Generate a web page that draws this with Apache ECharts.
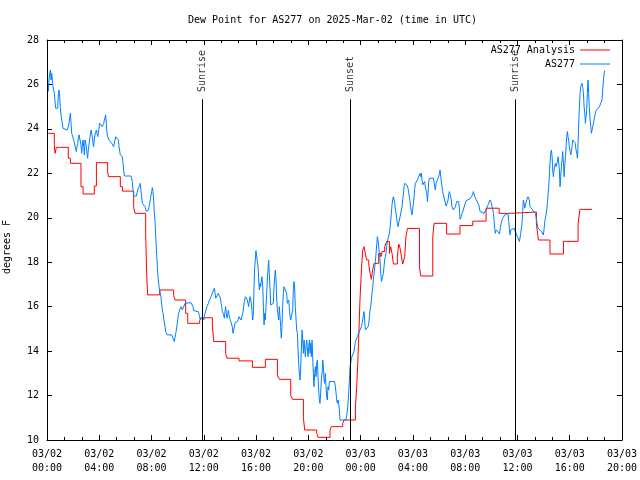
<!DOCTYPE html>
<html>
<head>
<meta charset="utf-8">
<script src="https://cdn.jsdelivr.net/npm/echarts@6/dist/echarts.min.js"></script>
<style>html,body{margin:0;padding:0;background:#fff}#c{width:640px;height:480px}</style>
</head>
<body>
<div id="c"></div>
<script>
// hours since 2025-03-02 00:00 UTC
const xTickLabels = ['03/02\n00:00','03/02\n04:00','03/02\n08:00','03/02\n12:00','03/02\n16:00','03/02\n20:00',
  '03/03\n00:00','03/03\n04:00','03/03\n08:00','03/03\n12:00','03/03\n16:00','03/03\n20:00'];
const yTicks = [10,12,14,16,18,20,22,24,26,28];
const eventTimes = [11.89, 23.19, 35.84];
const eventNames = ['Sunrise', 'Sunset', 'Sunrise'];

// AS277 Analysis (stepped): [hour, dew point F]
const analysis = [
[0.10,23.8],[0.56,23.3],[0.61,22.9],[0.72,23.17],[1.63,22.68],[1.79,22.45],[2.60,21.4],[2.76,21.07],
[3.62,21.43],[3.78,22.48],[4.64,22.1],[4.70,21.85],[5.61,21.4],[5.77,21.2],[6.63,20.5],[6.73,20.2],
[7.55,19.3],[7.63,17.43],[7.70,16.53],[8.62,16.75],[9.69,16.5],[9.80,16.3],[10.61,15.7],[10.77,15.25],
[11.68,15.37],[11.79,15.5],[12.65,15.18],[12.76,14.43],[13.67,13.9],[13.78,13.68],[14.69,13.56],
[15.72,13.27],[16.71,13.63],[17.63,12.9],[17.78,12.73],[18.65,12.0],[18.80,11.83],[19.62,11.0],[19.72,10.45],
[20.64,10.3],[20.74,10.12],[21.66,10.45],[21.76,10.6],[22.63,10.75],[22.73,10.9],
[23.60,11.5],[23.70,12.4],[23.78,13.45],[23.85,14.58],[23.95,16.3],[24.06,17.65],[24.16,18.55],[24.26,18.7],
[24.36,18.4],[24.46,18.1],[24.62,17.92],[24.72,17.5],[24.82,17.23],[24.92,17.65],[25.03,17.95],[25.38,18.4],
[25.54,18.25],[25.64,18.48],[25.84,18.7],[25.99,18.93],[26.20,18.4],[26.30,18.7],[26.40,18.4],[26.51,17.92],
[26.81,18.25],[26.91,18.82],[27.02,18.63],[27.12,18.25],[27.22,17.92],[27.37,18.25],[27.47,19.15],[27.58,19.52],
[28.50,17.8],[28.60,17.38],[29.52,19.15],[29.62,19.75],[30.58,19.27],[31.60,19.65],[32.58,19.85],[33.60,20.43],
[34.60,20.2],[35.50,20.26],[37.45,19.75],[37.60,19.0],[38.49,18.37],[39.52,18.94],[40.64,19.75],[40.79,20.38],
[41.71,20.38]
];

// AS277 observations: [hour, dew point F]
const station = [
[0.10,25.68],[0.15,26.2],[0.20,26.5],[0.26,26.65],[0.31,26.2],[0.36,26.5],[0.41,26.2],[0.46,25.9],[0.56,25.6],
[0.66,24.93],[0.82,24.93],[0.87,25.53],[0.92,25.75],[0.97,25.45],[1.02,25.0],[1.07,24.63],[1.17,24.25],[1.22,24.03],
[1.53,23.95],[1.63,24.1],[1.68,24.25],[1.73,24.48],[1.79,24.7],[1.84,24.25],[1.89,23.8],[1.99,23.8],[2.04,23.5],
[2.14,23.5],[2.19,23.13],[2.24,22.98],[2.30,23.2],[2.35,23.35],[2.40,23.58],[2.45,23.73],[2.55,23.73],[2.60,23.28],
[2.65,22.9],[2.70,23.2],[2.76,23.5],[2.81,23.2],[2.86,22.83],[2.91,23.5],[2.96,23.58],[3.01,23.2],[3.06,22.9],
[3.11,22.68],[3.16,23.05],[3.21,23.28],[3.32,23.73],[3.37,23.95],[3.42,24.03],[3.47,23.65],[3.52,23.35],[3.57,23.2],
[3.62,23.5],[3.67,23.73],[3.72,23.8],[3.78,23.95],[3.83,23.88],[3.88,23.65],[3.93,23.8],[3.98,24.03],[4.03,24.25],
[4.08,24.33],[4.13,24.18],[4.18,24.25],[4.23,24.1],[4.29,24.03],[4.34,24.25],[4.39,24.4],[4.44,24.48],[4.49,24.63],
[4.54,24.25],[4.59,23.8],[4.64,23.65],[4.74,23.5],[4.85,23.43],[4.95,23.35],[5.05,23.28],[5.10,23.2],[5.15,23.28],
[5.20,23.5],[5.26,23.65],[5.31,23.73],[5.41,23.73],[5.46,23.5],[5.51,23.2],[5.61,22.83],[5.66,22.75],[5.77,22.75],
[5.82,22.45],[5.87,22.15],[5.92,21.88],[6.43,21.88],[6.53,21.63],[6.58,21.25],[6.63,20.98],[6.84,20.98],[6.89,21.13],
[6.94,21.25],[6.99,21.18],[7.04,21.33],[7.09,21.45],[7.14,21.55],[7.19,21.25],[7.24,20.95],[7.30,20.65],[7.40,20.58],
[7.50,20.5],[7.55,20.43],[7.60,20.28],[7.70,20.28],[7.76,20.35],[7.81,20.5],[7.86,20.65],[7.91,20.83],[7.96,21.03],
[8.01,21.18],[8.06,21.36],[8.11,21.18],[8.16,20.8],[8.21,20.2],[8.27,19.83],[8.32,19.15],[8.37,18.55],[8.42,18.1],
[8.47,17.5],[8.52,17.2],[8.57,16.9],[8.62,16.75],[8.67,16.68],[8.72,16.45],[8.78,16.08],[8.83,15.85],[8.88,15.7],
[8.93,15.48],[8.98,15.4],[9.03,15.1],[9.08,14.88],[9.18,14.73],[9.54,14.73],[9.64,14.58],[9.74,14.43],[9.80,14.5],
[9.85,14.8],[9.90,14.95],[9.95,15.18],[10.00,15.4],[10.05,15.63],[10.10,15.7],[10.15,15.85],[10.20,15.78],[10.26,16.0],
[10.31,16.08],[10.36,15.85],[10.41,15.78],[10.46,15.85],[10.51,15.93],[10.56,16.15],[10.61,16.18],[11.02,16.18],
[11.12,16.15],[11.17,16.0],[11.22,15.82],[11.28,15.78],[11.58,15.78],[11.63,15.7],[11.68,15.55],[11.73,15.4],
[11.79,15.33],[11.84,15.4],[11.89,15.55],[11.94,15.48],[11.99,15.4],[12.04,15.55],[12.09,15.7],[12.14,15.78],
[12.19,15.78],[12.24,16.0],[12.35,16.15],[12.45,16.33],[12.55,16.45],[12.60,16.53],[12.70,16.68],[12.76,16.75],
[12.81,16.83],[12.86,16.6],[12.91,16.38],[13.06,16.38],[13.11,16.6],[13.16,16.6],[13.21,16.53],[13.27,16.38],
[13.32,16.15],[13.37,16.0],[13.42,15.78],[13.47,15.7],[13.52,15.63],[13.57,15.48],[13.62,15.78],[13.67,16.0],
[13.72,15.7],[13.78,15.48],[13.83,15.63],[13.88,15.85],[13.93,15.63],[13.98,15.48],[14.08,15.55],[14.13,15.4],
[14.18,15.1],[14.23,14.8],[14.29,14.95],[14.34,15.1],[14.39,15.28],[14.59,15.33],[14.64,15.4],[14.69,15.55],
[14.74,15.63],[14.80,15.55],[14.85,15.4],[14.90,15.48],[14.95,15.63],[15.00,15.78],[15.05,16.0],[15.10,16.23],
[15.18,16.45],[15.23,16.38],[15.28,16.53],[15.33,16.3],[15.38,16.15],[15.43,16.0],[15.48,16.23],[15.54,16.45],
[15.59,16.53],[15.64,16.15],[15.69,15.78],[15.74,15.4],[15.79,15.7],[15.84,16.9],[15.89,17.73],[15.94,18.1],
[15.99,18.52],[16.10,18.52],[16.15,17.8],[16.20,17.2],[16.25,16.75],[16.30,17.05],[16.35,16.9],[16.40,17.2],
[16.45,17.35],[16.51,16.9],[16.56,16.0],[16.61,15.18],[16.66,15.7],[16.71,15.4],[16.76,16.0],[16.81,16.6],
[16.86,17.2],[16.91,17.65],[16.96,18.1],[17.01,17.5],[17.07,16.75],[17.12,16.08],[17.32,16.15],[17.37,16.9],
[17.42,17.28],[17.47,17.65],[17.53,17.2],[17.58,16.3],[17.63,15.85],[17.68,15.93],[17.73,15.4],[17.78,16.0],
[17.83,15.55],[17.88,15.1],[17.93,14.58],[17.98,15.1],[18.03,16.0],[18.09,16.6],[18.14,16.9],[18.29,16.9],
[18.34,16.6],[18.39,16.15],[18.49,16.3],[18.54,16.0],[18.60,15.55],[18.65,15.4],[18.75,15.4],[18.80,15.85],
[18.85,16.75],[18.90,17.13],[18.95,16.9],[19.00,16.0],[19.06,15.4],[19.11,14.95],[19.16,14.8],[19.21,14.05],
[19.26,13.45],[19.31,13.0],[19.36,12.7],[19.41,13.15],[19.46,14.05],[19.52,14.95],[19.57,14.5],[19.62,13.9],
[19.67,14.5],[19.77,13.75],[19.82,14.2],[19.87,14.5],[19.92,14.2],[19.97,13.75],[20.03,14.2],[20.08,14.5],
[20.13,13.9],[20.18,14.35],[20.23,13.75],[20.28,14.5],[20.33,13.75],[20.38,13.0],[20.43,12.4],[20.48,13.0],
[20.54,13.3],[20.59,12.85],[20.64,13.45],[20.69,13.6],[20.74,12.85],[20.79,12.25],[20.84,11.8],[20.89,11.65],
[20.94,12.1],[20.99,12.7],[21.05,13.0],[21.10,13.6],[21.15,13.3],[21.20,12.7],[21.25,12.55],[21.30,13.0],
[21.35,12.4],[21.40,11.95],[21.45,11.8],[21.50,12.4],[21.56,12.25],[21.61,12.63],[22.01,12.63],[22.07,12.4],
[22.12,12.1],[22.17,11.8],[22.22,11.65],[22.27,11.8],[22.32,11.65],[22.37,11.35],[22.42,10.9],[22.88,10.9],
[22.98,11.28],[23.09,12.1],[23.14,12.7],[23.19,13.3],[23.24,13.45],[23.29,13.68],[23.44,13.68],[23.49,13.98],
[23.54,14.2],[23.60,14.43],[23.65,14.5],[23.75,14.65],[23.85,14.73],[23.95,14.95],[24.06,15.1],[24.16,15.4],
[24.21,15.63],[24.26,15.78],[24.31,15.4],[24.36,14.95],[24.46,14.95],[24.57,15.1],[24.62,15.25],[24.67,15.55],
[24.72,15.85],[24.77,16.0],[24.82,16.3],[24.87,16.6],[24.92,16.83],[24.97,17.2],[25.03,17.5],[25.08,17.8],
[25.13,18.03],[25.18,18.4],[25.23,18.78],[25.28,19.15],[25.33,19.0],[25.38,18.7],[25.43,18.4],[25.48,18.1],
[25.54,17.5],[25.59,17.13],[25.64,17.2],[25.69,17.35],[25.74,17.5],[25.79,17.8],[25.84,18.1],[25.89,18.25],
[25.94,18.4],[25.99,18.7],[26.05,18.93],[26.10,18.85],[26.15,19.0],[26.20,19.3],[26.25,19.53],[26.30,19.6],
[26.35,20.2],[26.40,20.58],[26.45,20.8],[26.51,20.95],[26.56,20.88],[26.61,20.65],[26.66,20.35],[26.71,20.2],
[26.76,19.98],[26.81,19.75],[26.86,19.6],[26.91,19.68],[26.96,19.9],[27.02,20.05],[27.07,20.13],[27.12,20.35],
[27.17,20.5],[27.22,20.8],[27.27,21.03],[27.32,21.4],[27.37,21.55],[27.42,21.63],[27.47,21.55],[27.53,21.48],
[27.58,21.4],[27.63,21.33],[27.68,21.1],[27.73,20.95],[27.78,20.73],[27.83,20.5],[27.88,20.28],[27.93,20.13],
[27.98,20.35],[28.04,20.65],[28.09,20.95],[28.14,21.33],[28.19,21.55],[28.24,21.63],[28.34,21.7],[28.44,21.85],
[28.55,22.0],[28.60,21.85],[28.65,22.0],[28.70,21.7],[28.75,21.48],[28.80,21.4],[28.85,21.55],[28.90,21.63],
[28.95,21.4],[29.01,21.33],[29.06,21.1],[29.11,20.73],[29.16,21.1],[29.21,21.63],[29.26,21.78],[29.57,21.78],
[29.67,21.4],[29.72,21.25],[29.77,21.55],[29.82,21.63],[29.87,21.7],[29.97,21.85],[30.03,22.0],[30.08,22.15],
[30.13,21.85],[30.23,21.4],[30.28,21.18],[30.33,21.03],[30.43,20.8],[30.54,20.53],[30.64,20.53],[30.69,20.8],
[30.74,21.03],[30.79,21.18],[30.89,21.13],[30.94,20.8],[30.99,20.5],[31.10,20.35],[31.15,20.28],[31.25,20.5],
[31.35,20.73],[31.45,20.8],[31.51,20.73],[31.56,20.35],[31.61,19.93],[31.71,20.05],[31.76,20.2],[31.86,20.35],
[31.96,20.58],[32.07,20.77],[32.17,20.85],[32.37,20.85],[32.47,20.95],[32.58,21.07],[32.63,21.18],[32.68,21.07],
[32.73,20.95],[32.83,20.83],[32.93,20.77],[33.04,20.58],[33.14,20.28],[33.44,20.2],[33.55,20.28],[33.65,20.43],
[33.75,20.58],[33.85,20.65],[33.90,20.8],[34.00,20.68],[34.06,20.5],[34.11,20.35],[34.16,20.2],[34.21,19.9],
[34.26,19.53],[34.31,19.3],[34.36,19.45],[34.41,19.53],[34.52,19.38],[34.62,19.27],[34.67,19.45],[34.72,19.68],
[34.82,19.9],[34.92,20.02],[35.03,20.13],[35.18,20.2],[35.28,20.2],[35.33,19.83],[35.38,19.53],[35.43,19.23],
[35.48,19.45],[35.59,19.53],[35.74,19.53],[35.84,19.45],[35.94,19.23],[36.05,19.08],[36.15,18.93],[36.20,19.0],
[36.25,19.3],[36.30,19.53],[36.35,19.75],[36.40,20.28],[36.45,20.8],[36.51,20.65],[36.56,20.43],[36.61,20.58],
[36.71,20.8],[36.81,20.95],[36.91,20.8],[36.96,20.5],[37.07,20.43],[37.17,20.35],[37.27,20.28],[37.37,20.2],
[37.42,20.05],[37.47,19.83],[37.53,19.68],[37.58,19.53],[37.63,19.45],[37.73,19.45],[37.83,19.38],[37.93,19.3],
[37.98,19.23],[38.03,19.45],[38.09,19.83],[38.14,19.98],[38.19,20.13],[38.24,20.35],[38.29,20.65],[38.34,21.03],
[38.39,21.4],[38.44,21.85],[38.49,22.45],[38.55,22.9],[38.60,23.05],[38.65,22.75],[38.70,22.15],[38.75,21.85],
[38.80,22.15],[38.85,22.3],[38.90,22.45],[38.95,22.3],[39.01,22.38],[39.06,22.53],[39.11,22.75],[39.16,22.68],
[39.21,22.15],[39.26,21.4],[39.31,21.85],[39.36,22.3],[39.41,22.6],[39.46,22.98],[39.52,22.45],[39.57,21.85],
[39.62,22.3],[39.67,22.75],[39.72,23.2],[39.77,23.65],[39.82,23.88],[39.87,23.65],[39.92,23.5],[39.97,23.2],
[40.03,22.98],[40.08,22.83],[40.13,22.9],[40.18,23.2],[40.23,23.5],[40.28,23.58],[40.38,23.58],[40.43,23.35],
[40.48,23.05],[40.54,22.9],[40.59,22.68],[40.64,23.35],[40.69,24.25],[40.74,25.0],[40.79,25.6],[40.84,25.9],
[40.89,25.98],[40.94,26.05],[40.99,25.9],[41.05,25.6],[41.10,25.0],[41.15,24.7],[41.20,24.25],[41.25,24.18],
[41.30,24.85],[41.35,25.6],[41.40,26.2],[41.45,25.6],[41.50,25.0],[41.56,24.4],[41.61,24.1],[41.66,23.8],
[41.71,23.95],[41.76,24.1],[41.81,24.25],[41.86,24.4],[41.91,24.55],[41.96,24.7],[42.01,24.82],[42.07,24.85],
[42.27,25.0],[42.42,25.03],[42.47,25.3],[42.52,25.75],[42.58,26.2],[42.63,26.5],[42.68,26.62]
];

const FONT = 'DejaVu Sans Mono';
const chart = echarts.init(document.getElementById('c'), null, {renderer: 'canvas'});

const xCommon = {
  type: 'value', min: 0, max: 44, interval: 4,
  axisLine: {show: true, onZero: false, lineStyle: {color: '#000', width: 1}},
  axisTick: {show: true, inside: true, length: 5, lineStyle: {color: '#000'}},
  minorTick: {show: true, splitNumber: 3, length: 3, lineStyle: {color: '#000'}},
  splitLine: {show: false}, minorSplitLine: {show: false}
};
const yCommon = {
  type: 'value', min: 10, max: 28, interval: 2,
  axisLine: {show: true, onZero: false, lineStyle: {color: '#000', width: 1}},
  axisTick: {show: true, inside: true, length: 5, lineStyle: {color: '#000'}},
  splitLine: {show: false}
};

chart.setOption({
  animation: false,
  backgroundColor: '#fff',
  title: {
    text: 'Dew Point for AS277 on 2025-Mar-02 (time in UTC)',
    left: 183, top: 10,
    textStyle: {fontFamily: FONT, fontSize: 10, fontWeight: 'normal', color: '#000'}
  },
  legend: {
    data: ['AS277 Analysis', 'AS277'],
    orient: 'vertical', right: 30, top: 44, align: 'right', padding: 0,
    icon: 'rect', itemWidth: 30, itemHeight: 1, itemGap: 2,
    textStyle: {fontFamily: FONT, fontSize: 10, color: '#000', lineHeight: 12}
  },
  grid: {left: 47, right: 18, top: 40, bottom: 40, containLabel: false, outerBoundsMode: 'none'},
  xAxis: [
    Object.assign({}, xCommon, {
      position: 'bottom',
      axisLabel: {show: true, margin: 7, lineHeight: 14, fontFamily: FONT, fontSize: 10, color: '#000',
        formatter: v => xTickLabels[Math.round(v / 4)]}
    }),
    Object.assign({}, xCommon, {position: 'top', axisLabel: {show: false}})
  ],
  yAxis: [
    Object.assign({}, yCommon, {
      position: 'left',
      name: 'degrees F', nameLocation: 'middle', nameGap: 35, nameRotate: 90,
      nameTextStyle: {fontFamily: FONT, fontSize: 10, color: '#000', padding: [0, 14, 0, 0]},
      axisLabel: {show: true, margin: 8, fontFamily: FONT, fontSize: 10, color: '#000',
        formatter: v => String(yTicks[Math.round((v - 10) / 2)])}
    }),
    Object.assign({}, yCommon, {position: 'right', axisLabel: {show: false}})
  ],
  series: [
    {
      name: 'AS277 Analysis', type: 'line', step: 'end', data: analysis,
      xAxisIndex: 0, yAxisIndex: 0, showSymbol: false, symbol: 'none',
      lineStyle: {color: '#ff0000', width: 1}, itemStyle: {color: '#ff0000'}, z: 3
    },
    {
      name: 'AS277', type: 'line', data: station,
      xAxisIndex: 0, yAxisIndex: 0, showSymbol: false, symbol: 'none',
      lineStyle: {color: '#0080ff', width: 1}, itemStyle: {color: '#0080ff'}, z: 4
    },
    {
      name: 'events', type: 'scatter', xAxisIndex: 0, yAxisIndex: 0,
      data: eventTimes.map(t => [t, 25.66]),
      symbolSize: 1, itemStyle: {color: 'rgba(0,0,0,0)'}, silent: true, z: 5,
      label: {show: true, position: 'inside', rotate: 90, align: 'left', verticalAlign: 'middle',
        fontFamily: FONT, fontSize: 10, color: '#000',
        formatter: p => eventNames[p.dataIndex]},
      markLine: {
        silent: true, symbol: ['none', 'none'], animation: false,
        label: {show: false},
        lineStyle: {color: '#000', width: 1, type: 'solid'},
        data: eventTimes.map(t => [{coord: [t, 10]}, {coord: [t, 25.33]}])
      }
    }
  ]
});
</script>
</body>
</html>
